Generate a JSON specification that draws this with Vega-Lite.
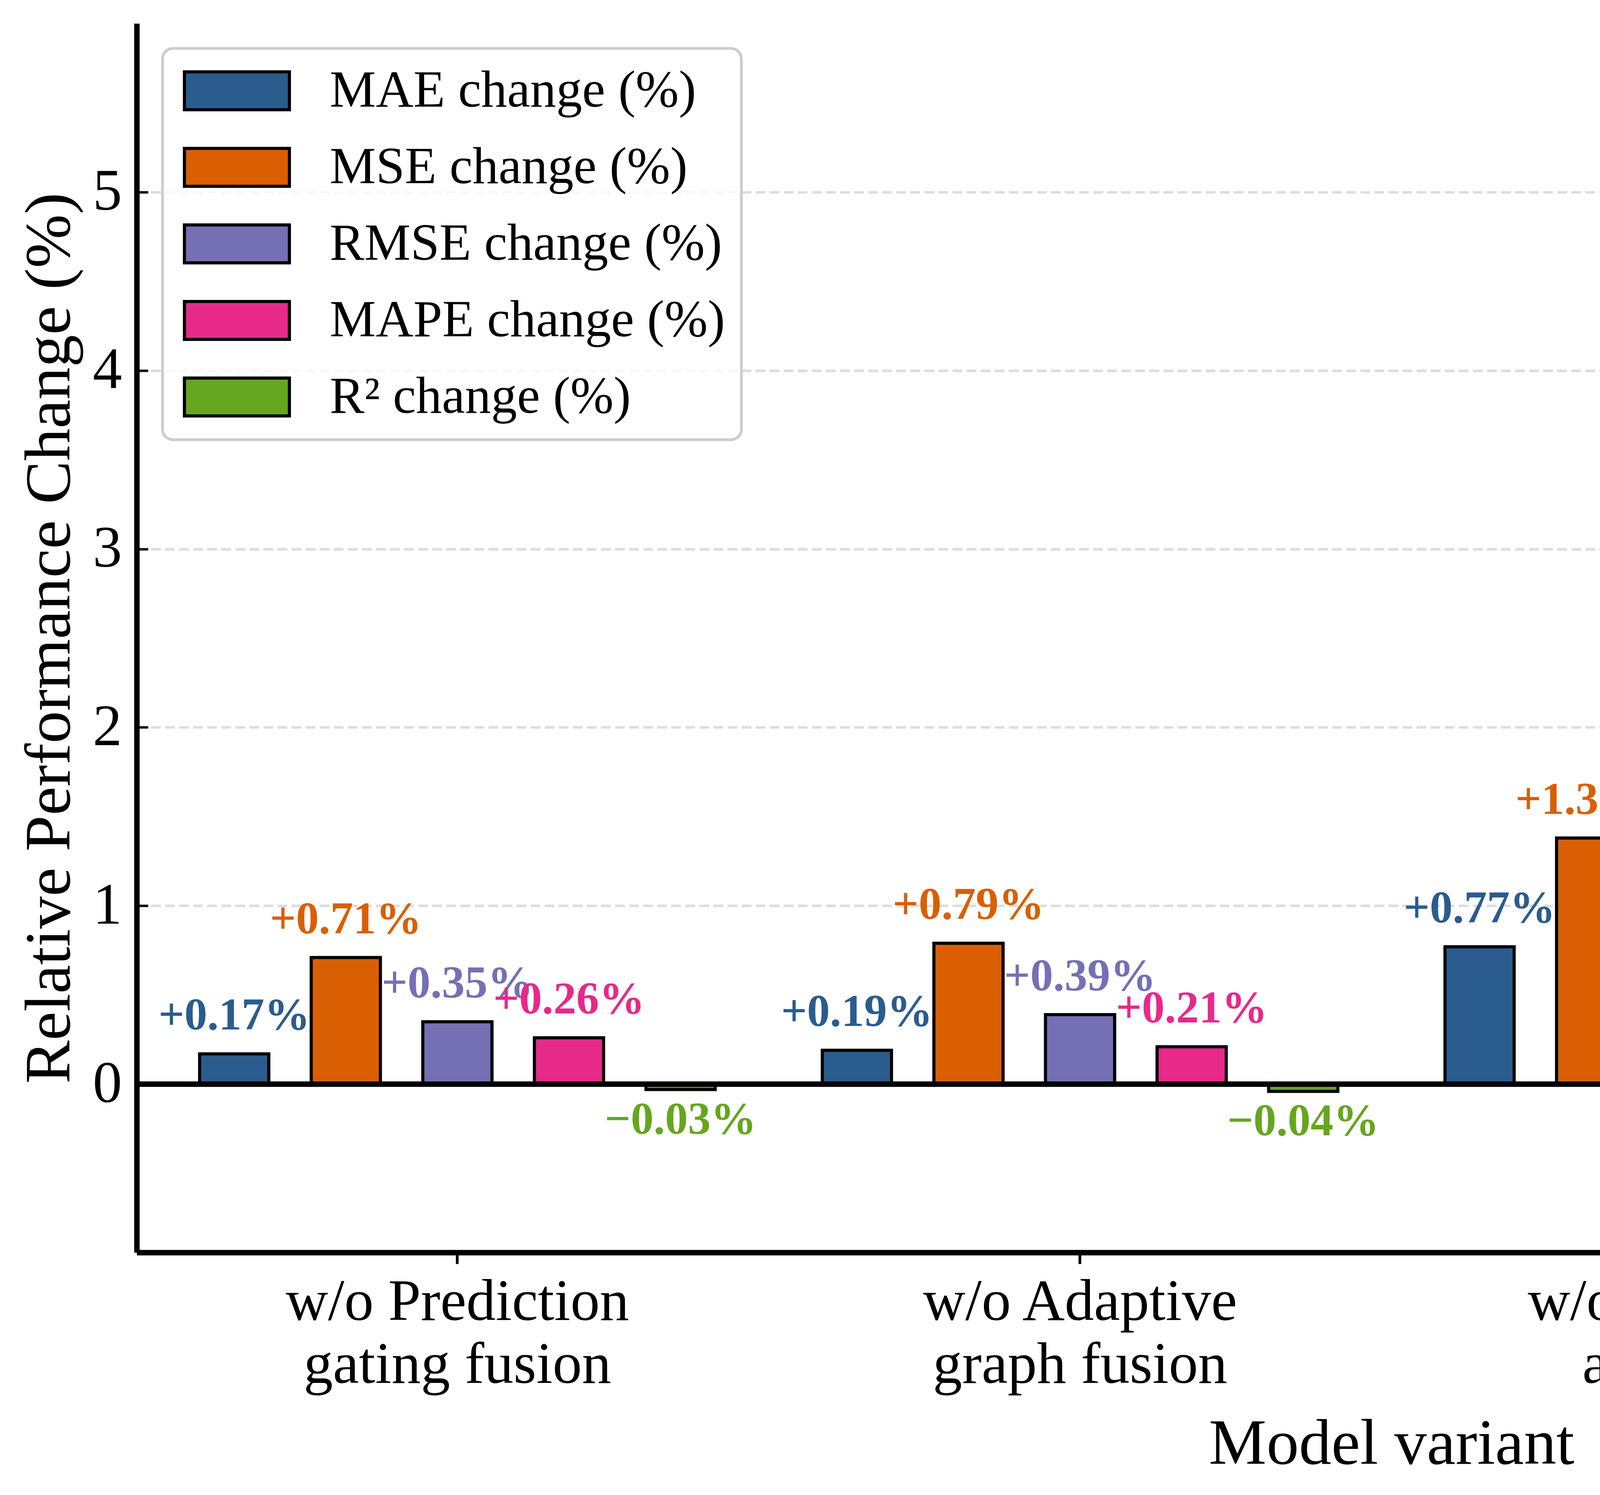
{
  "$schema": "https://vega.github.io/schema/vega-lite/v6.json",
  "width": 6424,
  "height": 3147,
  "autosize": {"type": "none"},
  "padding": {"left": 350, "top": 60, "right": 59, "bottom": 621},
  "background": "white",
  "config": {
    "font": "Liberation Serif",
    "view": {"stroke": null},
    "axis": {
      "labelFont": "Liberation Serif",
      "titleFont": "Liberation Serif",
      "labelColor": "black",
      "titleColor": "black",
      "titleFontWeight": "normal",
      "domainColor": "black",
      "tickColor": "black",
      "labelLimit": 3000,
      "labelOverlap": false
    },
    "legend": {
      "orient": "none",
      "legendX": 66,
      "legendY": 64,
      "labelFont": "Liberation Serif",
      "labelFontSize": 133,
      "labelColor": "black",
      "labelLimit": 3000,
      "padding": 42,
      "rowPadding": 62,
      "strokeColor": "#cccccc",
      "strokeWidth": 7,
      "cornerRadius": 27,
      "fillColor": "rgba(255,255,255,0.8)"
    }
  },
  "data": {
    "values": [
      {"variant": "w/o Prediction\ngating fusion", "metric": "MAE change (%)", "value": 0.17, "label": "+0.17%"},
      {"variant": "w/o Prediction\ngating fusion", "metric": "MSE change (%)", "value": 0.71, "label": "+0.71%"},
      {"variant": "w/o Prediction\ngating fusion", "metric": "RMSE change (%)", "value": 0.35, "label": "+0.35%"},
      {"variant": "w/o Prediction\ngating fusion", "metric": "MAPE change (%)", "value": 0.26, "label": "+0.26%"},
      {"variant": "w/o Prediction\ngating fusion", "metric": "R² change (%)", "value": -0.03, "label": "−0.03%"},
      {"variant": "w/o Adaptive\ngraph fusion", "metric": "MAE change (%)", "value": 0.19, "label": "+0.19%"},
      {"variant": "w/o Adaptive\ngraph fusion", "metric": "MSE change (%)", "value": 0.79, "label": "+0.79%"},
      {"variant": "w/o Adaptive\ngraph fusion", "metric": "RMSE change (%)", "value": 0.39, "label": "+0.39%"},
      {"variant": "w/o Adaptive\ngraph fusion", "metric": "MAPE change (%)", "value": 0.21, "label": "+0.21%"},
      {"variant": "w/o Adaptive\ngraph fusion", "metric": "R² change (%)", "value": -0.04, "label": "−0.04%"},
      {"variant": "w/o Frequency\nawareness", "metric": "MAE change (%)", "value": 0.77, "label": "+0.77%"},
      {"variant": "w/o Frequency\nawareness", "metric": "MSE change (%)", "value": 1.38, "label": "+1.38%"},
      {"variant": "w/o Frequency\nawareness", "metric": "RMSE change (%)", "value": 1.41, "label": "+1.41%"},
      {"variant": "w/o Frequency\nawareness", "metric": "MAPE change (%)", "value": 0.77, "label": "+0.77%"},
      {"variant": "w/o Frequency\nawareness", "metric": "R² change (%)", "value": -0.07, "label": "−0.07%"},
      {"variant": "Single-head\nDLinear", "metric": "MAE change (%)", "value": 1.63, "label": "+1.63%"},
      {"variant": "Single-head\nDLinear", "metric": "MSE change (%)", "value": 4.10, "label": "+4.10%"},
      {"variant": "Single-head\nDLinear", "metric": "RMSE change (%)", "value": 2.02, "label": "+2.02%"},
      {"variant": "Single-head\nDLinear", "metric": "MAPE change (%)", "value": 1.65, "label": "+1.65%"},
      {"variant": "Single-head\nDLinear", "metric": "R² change (%)", "value": -0.15, "label": "−0.15%"}
    ]
  },
  "layer": [
    {
      "mark": {"type": "bar", "stroke": "black", "strokeWidth": 8},
      "encoding": {
        "x": {
          "field": "variant", "type": "nominal", "sort": null,
          "scale": {"paddingInner": 0, "paddingOuter": 0.015},
          "axis": {
            "title": "Model variant",
            "titleFontSize": 166,
            "titleBaseline": "alphabetic",
            "titlePadding": 340,
            "labelFontSize": 150,
            "labelAngle": 0,
            "labelBaseline": "alphabetic",
            "labelLineHeight": 161,
            "labelPadding": 143,
            "labelExpr": "split(datum.label, '\\n')",
            "domainWidth": 14,
            "tickSize": 29,
            "tickWidth": 7
          }
        },
        "xOffset": {
          "field": "metric", "type": "nominal",
          "sort": ["MAE change (%)", "MSE change (%)", "RMSE change (%)", "MAPE change (%)", "R² change (%)"],
          "scale": {"paddingInner": 0.38, "paddingOuter": 0.48}
        },
        "y": {
          "field": "value", "type": "quantitative",
          "scale": {"domain": [-0.943, 5.945], "nice": false, "zero": false},
          "axis": {
            "title": "Relative Performance Change (%)",
            "titleFontSize": 166,
            "titlePadding": 25,
            "values": [0, 1, 2, 3, 4, 5],
            "format": "d",
            "labelFontSize": 150,
            "labelPadding": 67,
            "domainWidth": 14,
            "tickSize": -29,
            "tickWidth": 6,
            "grid": true,
            "gridColor": "#dddddd",
            "gridWidth": 6.7,
            "gridDash": [25, 11]
          }
        },
        "color": {
          "field": "metric", "type": "nominal",
          "scale": {
            "domain": ["MAE change (%)", "MSE change (%)", "RMSE change (%)", "MAPE change (%)", "R² change (%)"],
            "range": ["#2b5c8e", "#d95f02", "#7570b3", "#e7298a", "#66a61e"]
          },
          "legend": {
            "title": null,
            "symbolType": "M-2.77,-1H2.77V1H-2.77Z",
            "symbolSize": 9409,
            "symbolStrokeColor": "black",
            "symbolStrokeWidth": 8,
            "symbolOpacity": 1,
            "symbolOffset": 82,
            "labelOffset": 171
          }
        }
      }
    },
    {
      "transform": [{"filter": "datum.value >= 0"}],
      "mark": {"type": "text", "dy": -62, "baseline": "alphabetic", "align": "center", "fontWeight": "bold", "fontSize": 117, "font": "Liberation Serif"},
      "encoding": {
        "x": {"field": "variant", "type": "nominal", "sort": null},
        "xOffset": {"field": "metric", "type": "nominal", "sort": ["MAE change (%)", "MSE change (%)", "RMSE change (%)", "MAPE change (%)", "R² change (%)"]},
        "y": {"field": "value", "type": "quantitative"},
        "text": {"field": "label"},
        "color": {"field": "metric", "type": "nominal", "legend": null}
      }
    },
    {
      "transform": [{"filter": "datum.value < 0"}],
      "mark": {"type": "text", "dy": 113, "baseline": "alphabetic", "align": "center", "fontWeight": "bold", "fontSize": 117, "font": "Liberation Serif"},
      "encoding": {
        "x": {"field": "variant", "type": "nominal", "sort": null},
        "xOffset": {"field": "metric", "type": "nominal", "sort": ["MAE change (%)", "MSE change (%)", "RMSE change (%)", "MAPE change (%)", "R² change (%)"]},
        "y": {"field": "value", "type": "quantitative"},
        "text": {"field": "label"},
        "color": {"field": "metric", "type": "nominal", "legend": null}
      }
    },
    {
      "mark": {"type": "rule", "color": "black", "strokeWidth": 13},
      "encoding": {"y": {"datum": 0}}
    }
  ]
}
